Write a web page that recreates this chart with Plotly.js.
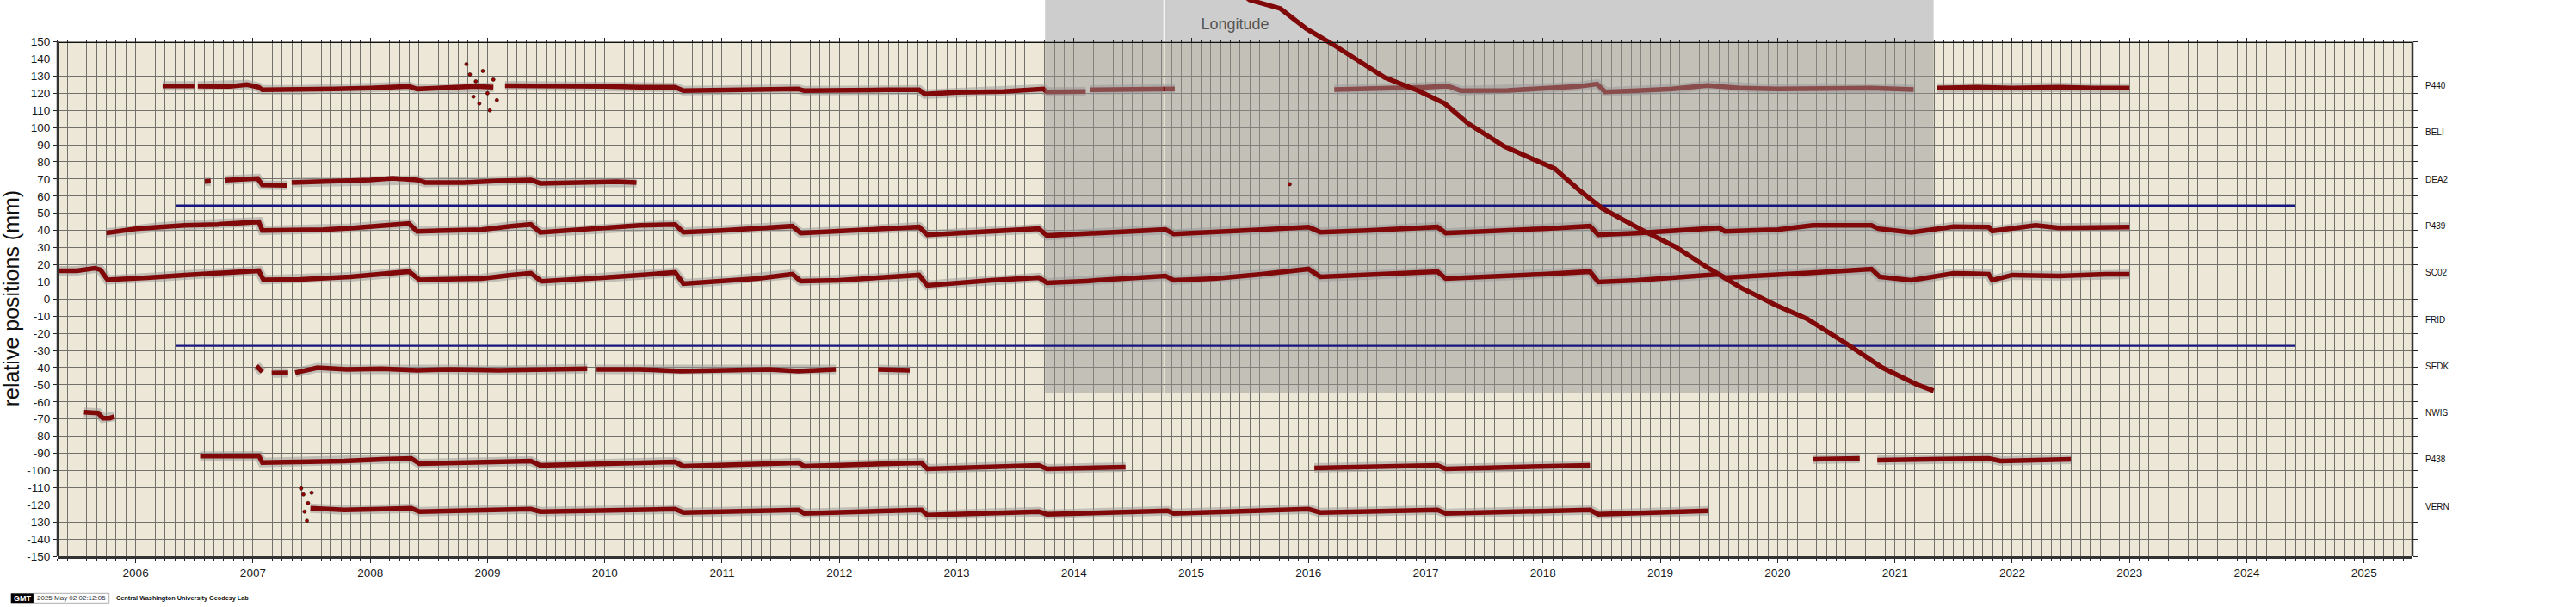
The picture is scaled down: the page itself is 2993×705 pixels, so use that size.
<!DOCTYPE html>
<html><head><meta charset="utf-8">
<script src="https://cdn.plot.ly/plotly-3.0.1.min.js"></script>
<style>html,body{margin:0;padding:0;background:#fff}#chart{width:2993px;height:705px}</style>
</head><body><div id="chart"></div>
<script>
// ---------------- DATA (decimal year, mm) ----------------
const years = [2006,2007,2008,2009,2010,2011,2012,2013,2014,2015,2016,2017,2018,2019,2020,2021,2022,2023,2024,2025];
const yearText = ['2006','2007','2008','2009','2010','2011','2012','2013','2014','2015','2016','2017','2018','2019','2020','2021','2022','2023','2024','2025'];
const yTicks = [-150,-140,-130,-120,-110,-100,-90,-80,-70,-60,-50,-40,-30,-20,-10,0,10,20,30,40,50,60,70,80,90,100,110,120,130,140,150];
const yTickText = ['-150','-140','-130','-120','-110','-100','-90','-80','-70','-60','-50','-40','-30','-20','-10','0','10','20','30','40','50','60','70','80','90','100','110','120','130','140','150'];
const stationNames = ['P440','BELI','DEA2','P439','SC02','FRID','SEDK','NWIS','P438','VERN'];
const stationLabelY = [124.5, 97.2, 69.9, 42.7, 15.4, -11.9, -39.2, -66.5, -93.7, -121.0];

const P440 = [[2006.23,124.3],[2006.50,124.3],null,[2006.53,124.2],[2006.8,124],[2006.95,125],[2007.05,123.5],[2007.08,122],[2007.4,122],[2007.7,122.5],[2008.0,123],[2008.33,124],[2008.4,122.5],[2008.7,123.5],[2008.9,124],[2009.05,123.5],null,
 [2009.15,124.5],[2009.4,124.5],[2009.7,124],[2010.0,124],[2010.3,123.5],[2010.6,123.5],[2010.67,121.5],[2011.0,122],[2011.4,122.5],[2011.65,122.5],[2011.7,121.5],[2012.0,122],[2012.4,122],[2012.68,122],[2012.73,119.5],[2013.0,120.5],[2013.4,121],[2013.74,122.5],[2013.77,120.8],[2014.1,121],null,
 [2014.14,122],[2014.5,122],[2014.86,122.5],null,
 [2016.22,122.2],[2016.6,122.5],[2017.0,123.5],[2017.19,124.2],[2017.3,121.5],[2017.7,121.7],[2018.0,123],[2018.3,124],[2018.46,125.4],[2018.53,120.8],[2018.8,121.5],[2019.1,122.5],[2019.4,124.5],[2019.7,123],[2020.0,122.5],[2020.4,123],[2020.8,123],[2021.16,122.2],null,
 [2021.36,123],[2021.7,123.5],[2022.0,123],[2022.4,123.5],[2022.7,123],[2023.0,123]];
const P440_OUT = [[2008.82,137],[2008.85,131],[2008.88,118],[2008.9,127],[2008.93,114],[2008.96,133],[2009.0,120],[2009.02,110],[2009.05,128],[2009.08,116]];

const DEA2 = [[2006.59,68.6],[2006.64,68.8],null,[2006.76,69.3],[2006.9,70],[2007.04,70.3],[2007.08,66.5],[2007.29,66.3],null,[2007.33,68],[2007.7,68.5],[2008.0,69.5],[2008.19,70.5],[2008.4,69.5],[2008.47,68],[2008.8,68],[2009.1,69],[2009.37,69.5],[2009.45,67.5],[2009.9,68],[2010.1,68.5],[2010.27,68]];

const P439 = [[2005.75,38.5],[2005.85,39.5],[2006.0,41],[2006.2,42],[2006.42,43],[2006.7,43.5],[2006.9,44.5],[2007.05,45],[2007.08,40],[2007.3,40],[2007.6,40.5],[2007.83,41.3],[2008.1,43],[2008.33,44],[2008.4,39.5],[2008.7,40],[2008.95,40.5],[2009.2,42.5],[2009.37,43.5],[2009.45,38.8],[2009.7,40],[2009.98,41.3],
 [2010.3,43],[2010.6,43.5],[2010.67,39],[2011.0,40],[2011.3,41.5],[2011.6,42.5],[2011.67,38.5],[2012.0,39.5],[2012.4,41],[2012.68,42],[2012.75,37.5],[2013.0,38.5],[2013.4,40],[2013.7,41],[2013.77,37],[2014.1,38],[2014.5,39.5],[2014.78,40.5],[2014.85,38],
 [2015.2,39],[2015.6,40.5],[2016.0,42],[2016.1,39],[2016.5,40],[2016.9,41.5],[2017.1,42],[2017.17,38.5],[2017.6,39.5],[2018.0,41],[2018.4,42.5],[2018.47,37.5],[2018.8,38.5],[2019.2,40.5],[2019.5,41.5],[2019.55,39.5],[2020.0,40.5],[2020.3,43],[2020.8,43],[2020.86,41],[2021.14,38.8],[2021.5,42.2],[2021.8,42],[2021.83,39.7],[2022.2,43],[2022.4,41.5],[2022.8,42],[2023.0,42]];

const SC02 = [[2005.34,16.5],[2005.5,16.5],[2005.65,18],[2005.7,17],[2005.76,11.2],[2005.9,11.5],[2006.1,12.5],[2006.42,14],[2006.7,15],[2006.95,16.5],[2007.05,16.5],[2007.09,11.2],[2007.4,11.5],[2007.83,12.9],[2008.1,14.5],[2008.33,16],[2008.42,11.2],[2008.7,11.5],[2008.95,12],[2009.2,14],[2009.37,15],[2009.46,10.3],[2009.7,11],[2009.98,12.4],
 [2010.3,14],[2010.6,15.5],[2010.67,9],[2010.9,10],[2011.3,12],[2011.6,14.5],[2011.67,10.5],[2012.0,11],[2012.4,12.5],[2012.68,14],[2012.75,8],[2012.9,9],[2013.3,11],[2013.7,12.5],[2013.77,9.5],[2014.1,10.5],[2014.5,12],[2014.78,13.5],[2014.85,11],
 [2015.2,12],[2015.6,14.5],[2016.0,17.5],[2016.1,13],[2016.5,14],[2016.9,15.5],[2017.1,16],[2017.17,12],[2017.6,13],[2018.0,14.5],[2018.4,16],[2018.47,10],[2018.8,11],[2019.2,13],[2019.5,14.5],[2019.55,12.5],[2020.0,14],[2020.3,15.4],[2020.8,17.5],[2020.87,13],[2021.14,11],[2021.5,15],[2021.8,14.5],[2021.83,11],[2022.0,14],[2022.4,13.5],[2022.8,14.5],[2023.0,14.5]];

const SEDK = [[2007.03,-39],[2007.08,-42.5],null,[2007.16,-43.2],[2007.3,-43],null,[2007.36,-43],[2007.55,-40],[2007.8,-41],[2008.1,-40.7],[2008.4,-41.5],[2008.7,-41],[2009.09,-41.5],[2009.4,-41],[2009.85,-40.7],null,
 [2009.93,-41],[2010.3,-41],[2010.65,-42],[2011.0,-41.5],[2011.4,-41],[2011.65,-42],[2011.97,-41],null,[2012.33,-41],[2012.6,-41.5]];

const NWIS = [[2005.56,-66],[2005.68,-66.5],[2005.72,-69.5],[2005.78,-69.5],[2005.82,-68.5]];

const P438 = [[2006.55,-91.6],[2006.8,-91.5],[2007.05,-91.5],[2007.08,-95.4],[2007.5,-95],[2007.78,-94.5],[2008.1,-93.5],[2008.35,-93],[2008.42,-96],[2008.9,-95.5],[2009.37,-94.5],[2009.45,-97],[2010.0,-96],[2010.6,-95],[2010.67,-97.5],[2011.2,-96.5],[2011.65,-95.5],[2011.7,-97.5],[2012.2,-96.5],[2012.7,-95.5],[2012.75,-99],[2013.2,-98],[2013.7,-97],[2013.77,-99],[2014.1,-98.5],[2014.44,-98],null,
 [2016.05,-98.5],[2016.5,-98],[2017.1,-97],[2017.17,-99],[2017.8,-98],[2018.4,-97],null,[2020.3,-93.5],[2020.7,-93],null,[2020.85,-94],[2021.2,-93.5],[2021.8,-93],[2021.9,-94.5],[2022.5,-93.5]];

const VERN = [[2007.49,-122],[2007.78,-123],[2008.1,-122.5],[2008.35,-122],[2008.42,-124],[2009.0,-123.5],[2009.37,-122.5],[2009.45,-124],[2010.0,-123.5],[2010.6,-122.5],[2010.67,-124.5],[2011.2,-124],[2011.65,-123],[2011.7,-125],[2012.2,-124],[2012.7,-123],[2012.75,-126],[2013.2,-125],[2013.7,-124],[2013.77,-125.5],[2014.3,-124.5],[2014.8,-123.5],[2014.85,-125],
 [2015.4,-124],[2016.0,-122.5],[2016.1,-124.5],[2016.6,-124],[2017.1,-123],[2017.17,-125],[2017.7,-124],[2018.4,-123],[2018.47,-125.5],[2018.9,-124.5],[2019.41,-123.5]];
const VERN_OUT = [[2007.41,-110.5],[2007.43,-114],[2007.44,-124],[2007.46,-129.3],[2007.47,-119],[2007.5,-113]];
const MISC_OUT = [[2015.84,67]];

// "Longitude" series (the diagonal) and its error envelope
const LON = [[2015.45,177],[2015.5,174.4],[2015.76,169.4],[2015.98,157.7],[2016.21,148.4],[2016.43,138.4],[2016.65,129.2],[2016.93,121.7],[2017.16,114.1],[2017.36,102.4],[2017.67,89],[2017.9,82],[2018.1,76],[2018.3,64],[2018.5,53],[2018.85,40],[2019.13,30.4],[2019.41,18],[2019.69,6.5],[2019.97,-3.1],[2020.25,-11.5],[2020.6,-26.6],[2020.89,-39.9],[2021.19,-49.9],[2021.33,-53.5]];
const lonErrStart = [2013.754, 2014.778];
const lonErrEnd   = [2014.763, 2021.33];
const lonErrLow   = [-54.8, -54.8];
const lonErrHigh  = [185, 185];

const blueX = [2006.34, 2024.41];
const blueUpperY = [54.5, 54.5];
const blueLowerY = [-27.3, -27.3];

// ---------------- LAYOUT GEOMETRY ----------------
const W = 2993, H = 705, L = 67, R = 190, T = 0, B = 59;
const plotW = W - L - R, plotH = H - T - B;
const xRange = [2005.335, 2025.413];
const pxPerMm = 597.4 / 300;
const yTopVal = -150 + plotH / pxPerMm;
const px2xp = px => (px - L) / plotW;
const py2yp = py => (T + plotH - py) / plotH;

const FONT = 'Liberation Sans, Arial, Helvetica, sans-serif';
const gridCol = '#72706a';
const beige = '#ece7d6';
const coreCol = '#800808';
const haloCol = 'rgba(150,150,150,0.5)';

const xs = a => a.map(p => p ? p[0] : null);
const ys = a => a.map(p => p ? p[1] : null);

function stationTraces(arr) {
  return [
    {x: xs(arr), y: ys(arr), type: 'scatter', mode: 'lines', line: {color: haloCol, width: 11}, hoverinfo: 'skip', showlegend: false},
    {x: xs(arr), y: ys(arr), type: 'scatter', mode: 'lines', line: {color: coreCol, width: 5.5}, hoverinfo: 'skip', showlegend: false}
  ];
}
function dotTrace(arr) {
  return {x: xs(arr), y: ys(arr), type: 'scatter', mode: 'markers', marker: {color: '#a00000', size: 4, line: {color: '#200', width: 0.6}}, hoverinfo: 'skip', showlegend: false};
}
// error envelope polygon from the arrays
const envX = [], envY = [];
lonErrStart.forEach((s, i) => {
  envX.push(s, s, lonErrEnd[i], lonErrEnd[i], null);
  envY.push(lonErrLow[i], lonErrHigh[i], lonErrHigh[i], lonErrLow[i], null);
});

const traces = [];
traces.push(...stationTraces(P440), dotTrace(P440_OUT));
traces.push({x: envX, y: envY, type: 'scatter', mode: 'lines', fill: 'toself', fillcolor: 'rgba(150,150,150,0.48)', line: {width: 0}, hoverinfo: 'skip', showlegend: false});
[DEA2, P439, SC02, SEDK, NWIS, P438, VERN].forEach(s => traces.push(...stationTraces(s)));
traces.push(dotTrace(VERN_OUT), dotTrace(MISC_OUT));
traces.push({x: blueX, y: blueUpperY, type: 'scatter', mode: 'lines', line: {color: '#16167e', width: 2.3}, hoverinfo: 'skip', showlegend: false});
traces.push({x: blueX, y: blueLowerY, type: 'scatter', mode: 'lines', line: {color: '#16167e', width: 2.3}, hoverinfo: 'skip', showlegend: false});
traces.push({x: xs(LON), y: ys(LON), type: 'scatter', mode: 'lines', line: {color: coreCol, width: 5.5}, hoverinfo: 'skip', showlegend: false});
// registers the top axis
traces.push({x: [xRange[0]], y: [null], xaxis: 'x2', yaxis: 'y', type: 'scatter', mode: 'lines', hoverinfo: 'skip', showlegend: false});

const tickFont = {family: FONT, size: 13.5, color: '#1a1a1a'};
const annotations = stationNames.map((n, i) => ({
  xref: 'paper', x: 1, xanchor: 'left', xshift: 13, yref: 'y', y: stationLabelY[i], yanchor: 'middle',
  text: n, showarrow: false, font: {family: FONT, size: 10, color: '#111'}
}));
annotations.push({xref: 'paper', yref: 'paper', x: px2xp(13), y: py2yp(347.3), xanchor: 'center', yanchor: 'middle',
  text: 'relative positions (mm)', textangle: -90, showarrow: false, font: {family: FONT, size: 25, color: '#111'}});
annotations.push({xref: 'paper', yref: 'paper', x: px2xp(26), y: py2yp(694.8), xanchor: 'center', yanchor: 'middle',
  text: '<b>GMT</b>', showarrow: false, font: {family: FONT, size: 9, color: '#fff'}});
annotations.push({xref: 'paper', yref: 'paper', x: px2xp(83), y: py2yp(694.8), xanchor: 'center', yanchor: 'middle',
  text: '2025 May 02 02:12:05', showarrow: false, font: {family: FONT, size: 8, color: '#333'}});
annotations.push({xref: 'paper', yref: 'paper', x: px2xp(133), y: py2yp(694.8), xanchor: 'left', yanchor: 'middle',
  text: '<b>Central Washington University Geodesy Lab</b>', showarrow: false, font: {family: FONT, size: 7.3, color: '#111'}});

const shapes = [
  {type: 'rect', xref: 'paper', yref: 'y', x0: 0, x1: 1, y0: -150, y1: 150, fillcolor: beige, line: {width: 0}, layer: 'below'},
  {type: 'rect', xref: 'x', yref: 'y', x0: xRange[0], x1: xRange[1], y0: 150.2, y1: yTopVal + 5, fillcolor: '#ffffff', line: {width: 0}, layer: 'between'},
  {type: 'line', xref: 'paper', yref: 'y', x0: 0, x1: 0, y0: -150, y1: 150, line: {color: '#333', width: 2.5}, layer: 'above'},
  {type: 'line', xref: 'paper', yref: 'y', x0: 1, x1: 1, y0: -150, y1: 150, line: {color: '#333', width: 2.5}, layer: 'above'},
  {type: 'rect', xref: 'paper', yref: 'paper', x0: px2xp(12.7), x1: px2xp(39.3), y0: py2yp(700.3), y1: py2yp(689.3), fillcolor: '#000', line: {width: 0}},
  {type: 'rect', xref: 'paper', yref: 'paper', x0: px2xp(39.3), x1: px2xp(126.7), y0: py2yp(700.3), y1: py2yp(689.3), fillcolor: '#fff', line: {color: '#999', width: 0.8}}
];

const layout = {
  width: W, height: H,
  margin: {l: L, r: R, t: T, b: B, pad: 0},
  paper_bgcolor: '#ffffff', plot_bgcolor: '#ffffff',
  showlegend: false,
  title: {text: 'Longitude', font: {family: FONT, size: 18, color: '#555'}, x: 1435 / W, y: 1 - 28 / H, xref: 'container', yref: 'container', xanchor: 'center', yanchor: 'middle'},
  xaxis: {range: xRange, tickmode: 'array', tickvals: years, ticktext: yearText, ticks: 'outside', ticklen: 5, tickwidth: 1, tickcolor: '#222',
    showgrid: true, gridcolor: gridCol, gridwidth: 1, zeroline: false, showline: true, linecolor: '#333', linewidth: 2.5,
    tickfont: tickFont, fixedrange: true,
    minor: {tick0: 2006, dtick: 1 / 12, ticks: 'outside', ticklen: 3, tickcolor: '#222', tickwidth: 1, showgrid: true, gridcolor: gridCol, gridwidth: 1}},
  xaxis2: {overlaying: 'x', side: 'top', anchor: 'free', position: 300 / (yTopVal + 150), range: xRange,
    tickmode: 'array', tickvals: years, ticks: 'outside', ticklen: 5, tickwidth: 1, tickcolor: '#222', showticklabels: false,
    showgrid: false, zeroline: false, showline: true, linecolor: '#111', linewidth: 1.3, fixedrange: true,
    minor: {tick0: 2006, dtick: 1 / 12, ticks: 'outside', ticklen: 3, tickcolor: '#222', tickwidth: 1, showgrid: false}},
  yaxis: {range: [-150, yTopVal], tickmode: 'array', tickvals: yTicks, ticktext: yTickText, ticks: 'outside', ticklen: 5, tickwidth: 1, tickcolor: '#222',
    mirror: 'ticks', showline: false, showgrid: true, gridcolor: gridCol, gridwidth: 1, zeroline: false, tickfont: tickFont, fixedrange: true},
  annotations: annotations,
  shapes: shapes
};

Plotly.newPlot('chart', traces, layout, {displayModeBar: false, staticPlot: true});
</script></body></html>
